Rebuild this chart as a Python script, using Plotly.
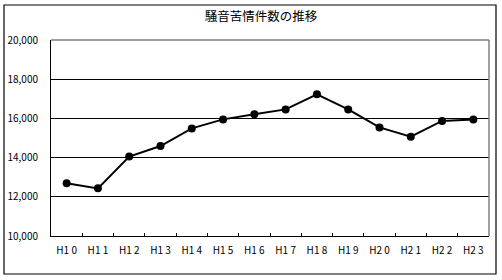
import plotly.graph_objects as go

categories = ["H10", "H11", "H12", "H13", "H14", "H15", "H16", "H17", "H18", "H19", "H20", "H21", "H22", "H23"]
tick_labels = ["H1 0", "H1 1", "H1 2", "H1 3", "H1 4", "H1 5", "H1 6", "H1 7", "H1 8", "H1 9", "H2 0", "H2 1", "H2 2", "H2 3"]
complaints = [12690, 12430, 14050, 14590, 15490, 15950, 16210, 16460, 17230, 16460, 15540, 15070, 15870, 15950]
y_ticks = [10000, 12000, 14000, 16000, 18000, 20000]
y_tick_text = ["10,000", "12,000", "14,000", "16,000", "18,000", "20,000"]
title = "騒音苦情件数の推移"

W, H = 502, 280
L, R, T, B = 51, 489, 40, 236  # plot area in pixels

font = "Noto Sans CJK JP, Liberation Sans, sans-serif"

fig = go.Figure()
fig.add_trace(go.Scatter(
    x=categories, y=complaints, mode="lines+markers",
    line=dict(color="black", width=2),
    marker=dict(color="black", size=8, symbol="circle"),
    showlegend=False, cliponaxis=False,
))

pw, ph = R - L, B - T
def px(x):
    return (x - L) / pw
def py(y):
    return (B - y) / ph

fig.update_layout(
    width=W, height=H,
    margin=dict(l=L, r=W - R, t=T, b=H - B, pad=0, autoexpand=False),
    paper_bgcolor="white", plot_bgcolor="white",
    font=dict(family=font, size=10, color="black"),
    title=dict(text=title, x=px(261), xref="paper", xanchor="center",
               y=1 - 17 / H, yanchor="middle", font=dict(size=12.5, color="black", family=font)),
    xaxis=dict(
        type="category", tickmode="array", tickvals=categories, ticktext=tick_labels,
        tickson="boundaries", ticks="inside", ticklen=3, tickcolor="black", tickwidth=1,
        showline=True, linecolor="black", linewidth=1, showgrid=False, automargin=False,
        range=[-0.5, len(categories) - 0.5], tickfont=dict(size=10, family=font),
        ticklabelstandoff=5,
    ),
    yaxis=dict(
        range=[10000, 20000], tickmode="array", tickvals=y_ticks, ticktext=y_tick_text,
        showline=True, linecolor="black", linewidth=1, automargin=False,
        showgrid=True, gridcolor="black", gridwidth=1, ticks="",
        zeroline=False, tickfont=dict(size=10, family=font), ticklabelstandoff=10,
    ),
    shapes=[
        # plot area border (gray top/right)
        dict(type="line", xref="paper", yref="paper", x0=0, x1=1, y0=1, y1=1,
             line=dict(color="#808080", width=1.5)),
        dict(type="line", xref="paper", yref="paper", x0=1, x1=1, y0=0, y1=1,
             line=dict(color="#808080", width=1.5)),
        # outer chart border
        dict(type="rect", xref="paper", yref="paper",
             x0=px(4), x1=px(496), y0=py(274), y1=py(5),
             line=dict(color="black", width=1.2), fillcolor="rgba(0,0,0,0)"),
    ],
)

fig.write_html("out.html")
